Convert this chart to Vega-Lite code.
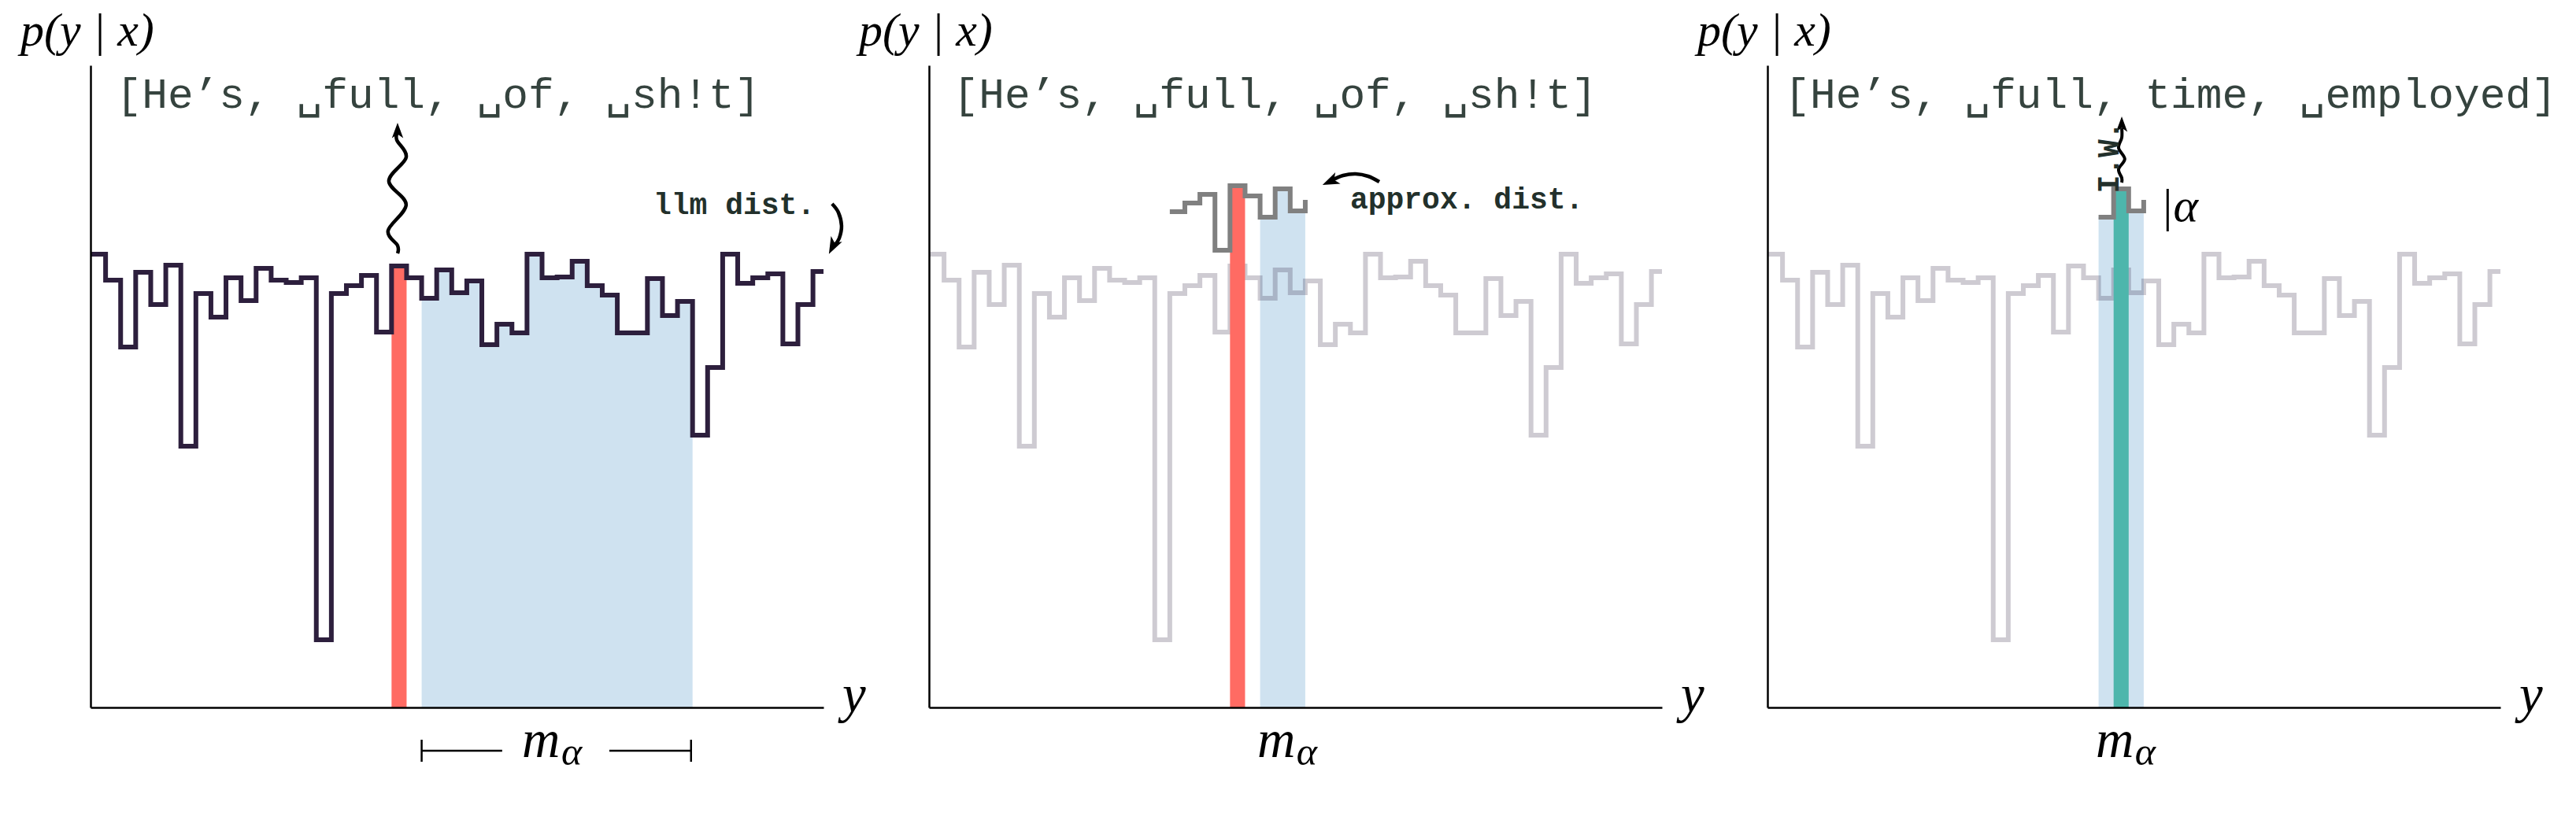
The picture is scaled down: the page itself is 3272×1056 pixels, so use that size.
{
  "$schema": "https://vega.github.io/schema/vega-lite/v6.json",
  "background": "white",
  "autosize": {"type": "pad"},
  "padding": {"left": 26, "top": 10, "right": 0, "bottom": 0},
  "bounds": "flush",
  "spacing": 134,
  "config": {"view": {"stroke": null}},
  "datasets": {
    "dist": [{"x":0,"y":576},{"x":1,"y":543},{"x":2,"y":458},{"x":3,"y":553},{"x":4,"y":512},{"x":5,"y":562},{"x":6,"y":332},{"x":7,"y":526},{"x":8,"y":496},{"x":9,"y":546},{"x":10,"y":517},{"x":11,"y":558},{"x":12,"y":543},{"x":13,"y":540},{"x":14,"y":546},{"x":15,"y":86},{"x":16,"y":526},{"x":17,"y":536},{"x":18,"y":549},{"x":19,"y":477},{"x":20,"y":561},{"x":21,"y":546},{"x":22,"y":520},{"x":23,"y":556},{"x":24,"y":527},{"x":25,"y":542},{"x":26,"y":461},{"x":27,"y":487},{"x":28,"y":476},{"x":29,"y":576},{"x":30,"y":546},{"x":31,"y":547},{"x":32,"y":567},{"x":33,"y":536},{"x":34,"y":524},{"x":35,"y":476},{"x":36,"y":476},{"x":37,"y":545},{"x":38,"y":498},{"x":39,"y":516},{"x":40,"y":346},{"x":41,"y":432},{"x":42,"y":576},{"x":43,"y":539},{"x":44,"y":546},{"x":45,"y":551},{"x":46,"y":462},{"x":47,"y":512},{"x":48,"y":554},{"x":48.7,"y":554}],
    "approx": [{"x":16,"y":630},{"x":17,"y":641},{"x":18,"y":652},{"x":19,"y":581},{"x":20,"y":663},{"x":21,"y":650},{"x":22,"y":623},{"x":23,"y":659},{"x":24,"y":631},{"x":25,"y":645}],
    "bars": [
      {"panel":"p1","role":"sample","x":20,"x2":21,"y":561},
      {"panel":"p2","role":"sample","x":20,"x2":21,"y":663},
      {"panel":"p3","role":"selected","x":23,"x2":24,"y":659}
    ],
    "arrows": [
      {"panel":"p1","arrow":"wavy1","seq":1,"x":20.40,"y":577},
      {"panel":"p1","arrow":"wavy1","seq":2,"x":20.40,"y":587},
      {"panel":"p1","arrow":"wavy1","seq":3,"x":19.77,"y":606},
      {"panel":"p1","arrow":"wavy1","seq":4,"x":20.97,"y":639},
      {"panel":"p1","arrow":"wavy1","seq":5,"x":19.82,"y":669},
      {"panel":"p1","arrow":"wavy1","seq":6,"x":20.97,"y":699},
      {"panel":"p1","arrow":"wavy1","seq":7,"x":20.35,"y":721},
      {"panel":"p1","arrow":"wavy1","seq":8,"x":20.40,"y":731},
      {"panel":"p1","arrow":"llm","seq":1,"x":49.27,"y":640},
      {"panel":"p1","arrow":"llm","seq":2,"x":49.69,"y":629},
      {"panel":"p1","arrow":"llm","seq":3,"x":49.90,"y":612},
      {"panel":"p1","arrow":"llm","seq":4,"x":49.74,"y":596},
      {"panel":"p1","arrow":"llm","seq":5,"x":49.42,"y":587},
      {"panel":"p2","arrow":"approx","seq":1,"x":29.92,"y":668},
      {"panel":"p2","arrow":"approx","seq":2,"x":29.18,"y":675},
      {"panel":"p2","arrow":"approx","seq":3,"x":28.35,"y":678},
      {"panel":"p2","arrow":"approx","seq":4,"x":27.51,"y":676},
      {"panel":"p2","arrow":"approx","seq":5,"x":26.78,"y":670},
      {"panel":"p3","arrow":"wavy3","seq":1,"x":23.54,"y":667},
      {"panel":"p3","arrow":"wavy3","seq":2,"x":23.54,"y":673},
      {"panel":"p3","arrow":"wavy3","seq":3,"x":23.33,"y":684},
      {"panel":"p3","arrow":"wavy3","seq":4,"x":23.74,"y":697},
      {"panel":"p3","arrow":"wavy3","seq":5,"x":23.33,"y":711},
      {"panel":"p3","arrow":"wavy3","seq":6,"x":23.54,"y":724},
      {"panel":"p3","arrow":"wavy3","seq":7,"x":23.54,"y":736}
    ],
    "heads": [
      {"panel":"p1","arrow":"wavy1","x":20.40,"y":733},
      {"panel":"p1","arrow":"llm","x":49.32,"y":586},
      {"panel":"p2","arrow":"approx","x":26.67,"y":668.5},
      {"panel":"p3","arrow":"wavy3","x":23.54,"y":741}
    ],
    "tokens": [
      {"panel":"p1","text":"[He’s, ␣full, ␣of, ␣sh!t]","x":1.7,"y":762},
      {"panel":"p2","text":"[He’s, ␣full, ␣of, ␣sh!t]","x":1.6,"y":762},
      {"panel":"p3","text":"[He’s, ␣full, time, ␣employed]","x":1.12,"y":762}
    ],
    "notes": [
      {"panel":"p1","text":"llm dist.","x":37.4,"y":627},
      {"panel":"p2","text":"approx. dist.","x":27.98,"y":634}
    ],
    "vnotes": [
      {"panel":"p3","text":"I.W.","x":22.75,"y":699}
    ],
    "pyx": [
      {"panel":"p1","text":"p(y | x)","x":-4.65,"y":841},
      {"panel":"p2","text":"p(y | x)","x":-4.65,"y":841},
      {"panel":"p3","text":"p(y | x)","x":-4.65,"y":841}
    ],
    "mathL": [
      {"panel":"p1","text":"y","x":49.95,"y":-6},
      {"panel":"p2","text":"y","x":49.95,"y":-6},
      {"panel":"p3","text":"y","x":49.95,"y":-6},
      {"panel":"p1","text":"m","x":28.66,"y":-63},
      {"panel":"p2","text":"m","x":21.81,"y":-63},
      {"panel":"p3","text":"m","x":21.81,"y":-63}
    ],
    "mathS": [
      {"panel":"p1","text":"α","x":31.28,"y":-73},
      {"panel":"p2","text":"α","x":24.42,"y":-73},
      {"panel":"p3","text":"α","x":24.42,"y":-73}
    ],
    "mathM": [
      {"panel":"p3","text":"|α","x":26.1,"y":618}
    ],
    "brackets": [
      {"panel":"p1","x":22,"x2":27.35,"y":-55,"y2":-55},
      {"panel":"p1","x":34.47,"x2":39.9,"y":-55,"y2":-55},
      {"panel":"p1","x":22,"x2":22,"y":-41,"y2":-69},
      {"panel":"p1","x":39.9,"x2":39.9,"y":-41,"y2":-69}
    ]
  },
  "hconcat": [
    {
      "width": 931, "height": 816,
      "encoding": {
        "x": {"field":"x","type":"quantitative","scale":{"domain":[0,48.7],"nice":false,"zero":false},"axis":{"title":null,"labels":false,"ticks":false,"grid":false,"domainColor":"black","domainWidth":2.5,"zindex":1}},
        "y": {"field":"y","type":"quantitative","scale":{"domain":[0,816],"nice":false,"zero":false},"axis":{"title":null,"labels":false,"ticks":false,"grid":false,"domainColor":"black","domainWidth":2.5,"zindex":1}}
      },
      "layer": [
        {"data":{"name":"dist"},"transform":[{"filter":"datum.x >= 22 && datum.x <= 40"}],
         "mark":{"type":"area","interpolate":"step-after","color":"#cfe2f0"},
         "encoding":{"y2":{"datum":0}}},
        {"data":{"name":"bars"},"transform":[{"filter":"datum.panel == 'p1'"}],
         "mark":{"type":"rect"},
         "encoding":{"x2":{"field":"x2"},"y2":{"datum":0},
           "color":{"field":"role","type":"nominal","scale":{"domain":["sample","selected"],"range":["#ff6b63","#4db6ac"]},"legend":null}}},
        {"data":{"name":"dist"},
         "mark":{"type":"line","interpolate":"step-after","color":"#2d1f3d","strokeWidth":6,"strokeJoin":"miter","strokeCap":"butt"}},
        {"data":{"name":"arrows"},"transform":[{"filter":"datum.panel == 'p1'"}],
         "mark":{"type":"line","interpolate":"cardinal","color":"black","strokeWidth":4.5},
         "encoding":{"order":{"field":"seq","type":"quantitative"},"detail":{"field":"arrow"}}},
        {"data":{"name":"heads"},"transform":[{"filter":"datum.arrow == 'wavy1'"}],
         "mark":{"type":"point","shape":"M0,-1L0.72,0.95L0,0.45L-0.72,0.95Z","filled":true,"color":"black","opacity":1,"size":400,"angle":0,"strokeWidth":0}},
        {"data":{"name":"heads"},"transform":[{"filter":"datum.arrow == 'llm'"}],
         "mark":{"type":"point","shape":"M0,-1L0.72,0.95L0,0.45L-0.72,0.95Z","filled":true,"color":"black","opacity":1,"size":484,"angle":207,"strokeWidth":0}},
        {"data":{"name":"tokens"},"transform":[{"filter":"datum.panel == 'p1'"}],
         "mark":{"type":"text","font":"Liberation Mono, DejaVu Sans Mono","fontSize":54.5,"color":"#35433e","align":"left","baseline":"alphabetic"},
         "encoding":{"text":{"field":"text"}}},
        {"data":{"name":"notes"},"transform":[{"filter":"datum.panel == 'p1'"}],
         "mark":{"type":"text","font":"Liberation Mono","fontWeight":"bold","fontSize":38,"color":"#22302b","align":"left","baseline":"alphabetic"},
         "encoding":{"text":{"field":"text"}}},
        {"data":{"name":"pyx"},"transform":[{"filter":"datum.panel == 'p1'"}],
         "mark":{"type":"text","font":"Liberation Serif","fontStyle":"italic","fontSize":60,"color":"black","align":"left","baseline":"alphabetic"},
         "encoding":{"text":{"field":"text"}}},
        {"data":{"name":"mathL"},"transform":[{"filter":"datum.panel == 'p1'"}],
         "mark":{"type":"text","font":"Liberation Serif","fontStyle":"italic","fontSize":67,"color":"black","align":"left","baseline":"alphabetic"},
         "encoding":{"text":{"field":"text"}}},
        {"data":{"name":"mathS"},"transform":[{"filter":"datum.panel == 'p1'"}],
         "mark":{"type":"text","font":"Liberation Serif","fontStyle":"italic","fontSize":50,"color":"black","align":"left","baseline":"alphabetic"},
         "encoding":{"text":{"field":"text"}}},
        {"data":{"name":"brackets"},"transform":[{"filter":"datum.panel == 'p1'"}],
         "mark":{"type":"rule","color":"black","strokeWidth":2.5},
         "encoding":{"x2":{"field":"x2"},"y2":{"field":"y2"}}}
      ]
    },
    {
      "width": 931, "height": 816,
      "encoding": {
        "x": {"field":"x","type":"quantitative","scale":{"domain":[0,48.7],"nice":false,"zero":false},"axis":{"title":null,"labels":false,"ticks":false,"grid":false,"domainColor":"black","domainWidth":2.5,"zindex":1}},
        "y": {"field":"y","type":"quantitative","scale":{"domain":[0,816],"nice":false,"zero":false},"axis":{"title":null,"labels":false,"ticks":false,"grid":false,"domainColor":"black","domainWidth":2.5,"zindex":1}}
      },
      "layer": [
        {"data":{"name":"approx"},"transform":[{"filter":"datum.x >= 22"}],
         "mark":{"type":"area","interpolate":"step-after","color":"#cfe2f0"},
         "encoding":{"y2":{"datum":0}}},
        {"data":{"name":"dist"},
         "mark":{"type":"line","interpolate":"step-after","color":"#2d1f3d","strokeOpacity":0.23,"strokeWidth":6,"strokeJoin":"miter","strokeCap":"butt"}},
        {"data":{"name":"bars"},"transform":[{"filter":"datum.panel == 'p2'"}],
         "mark":{"type":"rect"},
         "encoding":{"x2":{"field":"x2"},"y2":{"datum":0},
           "color":{"field":"role","type":"nominal","scale":{"domain":["sample","selected"],"range":["#ff6b63","#4db6ac"]},"legend":null}}},
        {"data":{"name":"approx"},
         "mark":{"type":"line","interpolate":"step-after","color":"#808080","strokeWidth":6,"strokeJoin":"miter","strokeCap":"butt"}},
        {"data":{"name":"arrows"},"transform":[{"filter":"datum.panel == 'p2'"}],
         "mark":{"type":"line","interpolate":"cardinal","color":"black","strokeWidth":4.5},
         "encoding":{"order":{"field":"seq","type":"quantitative"},"detail":{"field":"arrow"}}},
        {"data":{"name":"heads"},"transform":[{"filter":"datum.arrow == 'approx'"}],
         "mark":{"type":"point","shape":"M0,-1L0.72,0.95L0,0.45L-0.72,0.95Z","filled":true,"color":"black","opacity":1,"size":484,"angle":246,"strokeWidth":0}},
        {"data":{"name":"tokens"},"transform":[{"filter":"datum.panel == 'p2'"}],
         "mark":{"type":"text","font":"Liberation Mono, DejaVu Sans Mono","fontSize":54.5,"color":"#35433e","align":"left","baseline":"alphabetic"},
         "encoding":{"text":{"field":"text"}}},
        {"data":{"name":"notes"},"transform":[{"filter":"datum.panel == 'p2'"}],
         "mark":{"type":"text","font":"Liberation Mono","fontWeight":"bold","fontSize":38,"color":"#22302b","align":"left","baseline":"alphabetic"},
         "encoding":{"text":{"field":"text"}}},
        {"data":{"name":"pyx"},"transform":[{"filter":"datum.panel == 'p2'"}],
         "mark":{"type":"text","font":"Liberation Serif","fontStyle":"italic","fontSize":60,"color":"black","align":"left","baseline":"alphabetic"},
         "encoding":{"text":{"field":"text"}}},
        {"data":{"name":"mathL"},"transform":[{"filter":"datum.panel == 'p2'"}],
         "mark":{"type":"text","font":"Liberation Serif","fontStyle":"italic","fontSize":67,"color":"black","align":"left","baseline":"alphabetic"},
         "encoding":{"text":{"field":"text"}}},
        {"data":{"name":"mathS"},"transform":[{"filter":"datum.panel == 'p2'"}],
         "mark":{"type":"text","font":"Liberation Serif","fontStyle":"italic","fontSize":50,"color":"black","align":"left","baseline":"alphabetic"},
         "encoding":{"text":{"field":"text"}}}
      ]
    },
    {
      "width": 931, "height": 816,
      "encoding": {
        "x": {"field":"x","type":"quantitative","scale":{"domain":[0,48.7],"nice":false,"zero":false},"axis":{"title":null,"labels":false,"ticks":false,"grid":false,"domainColor":"black","domainWidth":2.5,"zindex":1}},
        "y": {"field":"y","type":"quantitative","scale":{"domain":[0,816],"nice":false,"zero":false},"axis":{"title":null,"labels":false,"ticks":false,"grid":false,"domainColor":"black","domainWidth":2.5,"zindex":1}}
      },
      "layer": [
        {"data":{"name":"approx"},"transform":[{"filter":"datum.x >= 22"}],
         "mark":{"type":"area","interpolate":"step-after","color":"#cfe2f0"},
         "encoding":{"y2":{"datum":0}}},
        {"data":{"name":"dist"},
         "mark":{"type":"line","interpolate":"step-after","color":"#2d1f3d","strokeOpacity":0.23,"strokeWidth":6,"strokeJoin":"miter","strokeCap":"butt"}},
        {"data":{"name":"bars"},"transform":[{"filter":"datum.panel == 'p3'"}],
         "mark":{"type":"rect"},
         "encoding":{"x2":{"field":"x2"},"y2":{"datum":0},
           "color":{"field":"role","type":"nominal","scale":{"domain":["sample","selected"],"range":["#ff6b63","#4db6ac"]},"legend":null}}},
        {"data":{"name":"approx"},"transform":[{"filter":"datum.x >= 22"}],
         "mark":{"type":"line","interpolate":"step-after","color":"#808080","strokeWidth":6,"strokeJoin":"miter","strokeCap":"butt"}},
        {"data":{"name":"arrows"},"transform":[{"filter":"datum.panel == 'p3'"}],
         "mark":{"type":"line","interpolate":"cardinal","color":"black","strokeWidth":4},
         "encoding":{"order":{"field":"seq","type":"quantitative"},"detail":{"field":"arrow"}}},
        {"data":{"name":"heads"},"transform":[{"filter":"datum.arrow == 'wavy3'"}],
         "mark":{"type":"point","shape":"M0,-1L0.72,0.95L0,0.45L-0.72,0.95Z","filled":true,"color":"black","opacity":1,"size":400,"angle":0,"strokeWidth":0}},
        {"data":{"name":"tokens"},"transform":[{"filter":"datum.panel == 'p3'"}],
         "mark":{"type":"text","font":"Liberation Mono, DejaVu Sans Mono","fontSize":54.5,"color":"#35433e","align":"left","baseline":"alphabetic"},
         "encoding":{"text":{"field":"text"}}},
        {"data":{"name":"vnotes"},
         "mark":{"type":"text","font":"Liberation Mono","fontWeight":"bold","fontSize":38,"color":"#22302b","align":"center","baseline":"middle","angle":270},
         "encoding":{"text":{"field":"text"}}},
        {"data":{"name":"pyx"},"transform":[{"filter":"datum.panel == 'p3'"}],
         "mark":{"type":"text","font":"Liberation Serif","fontStyle":"italic","fontSize":60,"color":"black","align":"left","baseline":"alphabetic"},
         "encoding":{"text":{"field":"text"}}},
        {"data":{"name":"mathL"},"transform":[{"filter":"datum.panel == 'p3'"}],
         "mark":{"type":"text","font":"Liberation Serif","fontStyle":"italic","fontSize":67,"color":"black","align":"left","baseline":"alphabetic"},
         "encoding":{"text":{"field":"text"}}},
        {"data":{"name":"mathS"},"transform":[{"filter":"datum.panel == 'p3'"}],
         "mark":{"type":"text","font":"Liberation Serif","fontStyle":"italic","fontSize":50,"color":"black","align":"left","baseline":"alphabetic"},
         "encoding":{"text":{"field":"text"}}},
        {"data":{"name":"mathM"},
         "mark":{"type":"text","font":"Liberation Serif","fontStyle":"italic","fontSize":60,"color":"black","align":"left","baseline":"alphabetic"},
         "encoding":{"text":{"field":"text"}}}
      ]
    }
  ]
}
